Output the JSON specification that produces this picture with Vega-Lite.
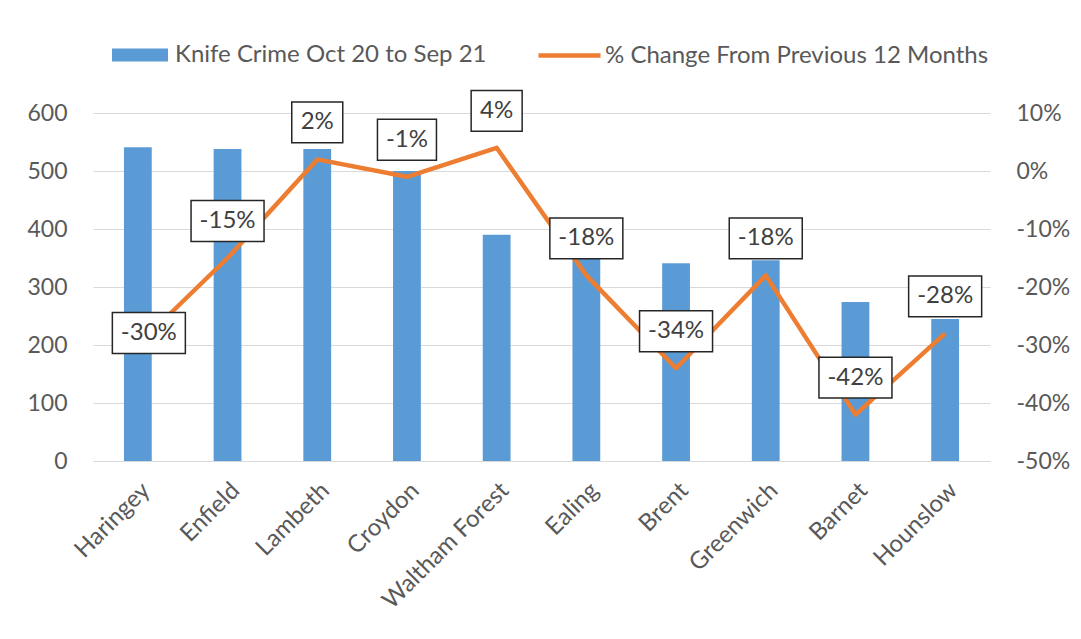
{
  "$schema": "https://vega.github.io/schema/vega-lite/v6.json",
  "width": 897,
  "height": 348,
  "autosize": {"type": "none"},
  "padding": {"left": 93, "top": 113, "right": 91, "bottom": 178},
  "background": "white",
  "config": {
    "font": "Lato",
    "locale": {"number": {"decimal": ".", "thousands": ",", "grouping": [3], "currency": ["$", ""], "minus": "-"}},
    "view": {"stroke": null},
    "axis": {"labelFont": "Lato", "labelColor": "#595959", "title": null},
    "legend": {"labelFont": "Lato", "labelColor": "#595959"}
  },
  "data": {
    "values": [
      {"borough": "Haringey", "crimes": 541, "pct": -0.30},
      {"borough": "Enfield", "crimes": 538, "pct": -0.15},
      {"borough": "Lambeth", "crimes": 538, "pct": 0.02},
      {"borough": "Croydon", "crimes": 500, "pct": -0.01},
      {"borough": "Waltham Forest", "crimes": 390, "pct": 0.04},
      {"borough": "Ealing", "crimes": 352, "pct": -0.18},
      {"borough": "Brent", "crimes": 341, "pct": -0.34},
      {"borough": "Greenwich", "crimes": 346, "pct": -0.18},
      {"borough": "Barnet", "crimes": 274, "pct": -0.42},
      {"borough": "Hounslow", "crimes": 245, "pct": -0.28}
    ]
  },
  "encoding": {
    "x": {
      "field": "borough",
      "type": "nominal",
      "sort": null,
      "scale": {"paddingInner": 0, "paddingOuter": 0},
      "axis": {
        "labelAngle": -45,
        "labelFontSize": 24,
        "ticks": false,
        "domain": true,
        "domainColor": "#D9D9D9",
        "domainWidth": 1,
        "labelPadding": 17,
        "grid": false,
        "title": null
      }
    }
  },
  "layer": [
    {
      "mark": {"type": "bar", "width": {"band": 0.31}},
      "encoding": {
        "y": {
          "field": "crimes",
          "type": "quantitative",
          "scale": {"domain": [0, 600], "nice": false},
          "axis": {
            "values": [0, 100, 200, 300, 400, 500, 600],
            "grid": true,
            "gridColor": "#D9D9D9",
            "gridWidth": 1,
            "ticks": false,
            "domain": false,
            "labelFontSize": 23,
            "labelPadding": 26,
            "title": null
          }
        },
        "fill": {
          "datum": "Knife Crime Oct 20 to Sep 21",
          "scale": {"range": ["#5B9BD5"]},
          "legend": {
            "orient": "none",
            "legendX": 19,
            "legendY": -86,
            "direction": "horizontal",
            "symbolType": "M-1,-0.23H1V0.23H-1Z",
            "symbolSize": 3136,
            "symbolStrokeWidth": 0,
            "labelFontSize": 24,
            "labelOffset": 7,
            "labelLimit": 600,
            "padding": 0,
            "title": null
          }
        }
      }
    },
    {
      "encoding": {
        "y": {
          "field": "pct",
          "type": "quantitative",
          "scale": {"domain": [-0.5, 0.1], "nice": false},
          "axis": {
            "orient": "right",
            "values": [-0.5, -0.4, -0.3, -0.2, -0.1, 0, 0.1],
            "format": ".0%",
            "grid": false,
            "ticks": false,
            "domain": false,
            "labelFontSize": 23,
            "labelPadding": 26,
            "title": null
          }
        }
      },
      "layer": [
        {
          "mark": {"type": "line", "strokeWidth": 4.5, "strokeJoin": "round"},
          "encoding": {
            "stroke": {
              "datum": "% Change From Previous 12 Months",
              "scale": {"range": ["#ED7D31"]},
              "legend": {
                "orient": "none",
                "legendX": 443,
                "legendY": -91,
                "direction": "horizontal",
                "symbolType": "stroke",
                "symbolSize": 3844,
                "symbolStrokeWidth": 4.5,
                "labelFontSize": 24,
                "labelOffset": 2,
                "labelLimit": 600,
                "padding": 0,
                "title": null
              }
            }
          }
        },
        {
          "transform": [{"filter": "datum.borough !== 'Haringey'"}],
          "mark": {"type": "point", "filled": true, "fill": "white", "stroke": "#262626", "strokeWidth": 1.5, "opacity": 1, "yOffset": -37},
          "encoding": {
            "shape": {
              "condition": [
                {"test": "datum.pct >= 0", "value": "M-1,-0.8H1V0.8H-1Z"},
                {"test": "datum.pct > -0.095", "value": "M-1,-0.695H1V0.695H-1Z"}
              ],
              "value": "M-1,-0.56H1V0.56H-1Z"
            },
            "size": {
              "condition": [
                {"test": "datum.pct >= 0", "value": 2601},
                {"test": "datum.pct > -0.095", "value": 3481}
              ],
              "value": 5329
            }
          }
        },
        {
          "transform": [{"filter": "datum.borough !== 'Haringey'"}],
          "mark": {"type": "text", "fontSize": 24, "color": "#404040", "baseline": "middle", "yOffset": -37},
          "encoding": {
            "text": {"field": "pct", "type": "quantitative", "format": ".0%"}
          }
        },
        {
          "transform": [{"filter": "datum.borough === 'Haringey'"}],
          "mark": {"type": "point", "filled": true, "fill": "white", "stroke": "#262626", "strokeWidth": 1.5, "opacity": 1, "shape": "M-1,-0.56H1V0.56H-1Z", "size": 5329, "xOffset": 11, "yOffset": -12},
          "encoding": {}
        },
        {
          "transform": [{"filter": "datum.borough === 'Haringey'"}],
          "mark": {"type": "text", "fontSize": 24, "color": "#404040", "baseline": "middle", "xOffset": 11, "yOffset": -12},
          "encoding": {
            "text": {"field": "pct", "type": "quantitative", "format": ".0%"}
          }
        }
      ]
    }
  ],
  "resolve": {"scale": {"y": "independent"}}
}
